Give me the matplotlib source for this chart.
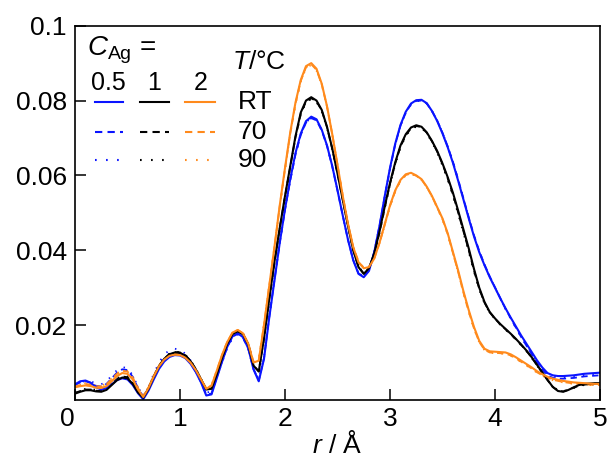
import numpy as np
import matplotlib
matplotlib.use('Agg')
import matplotlib.pyplot as plt
from matplotlib.lines import Line2D

plt.rcParams['font.family'] = ['Liberation Sans', 'DejaVu Sans']
plt.rcParams['mathtext.fontset'] = 'custom'
plt.rcParams['mathtext.rm'] = 'Liberation Sans'
plt.rcParams['mathtext.it'] = 'Liberation Sans:italic'

# r grid (Å)
r = np.round(np.arange(0, 5.0001, 0.05), 2)

# C_Ag = 0.5 (blue)
g05_rt = [0.0042, 0.0050, 0.0052, 0.0046, 0.0034, 0.0028, 0.0032, 0.0042, 0.0053, 0.0058,
          0.0055, 0.0040, 0.0018, 0.0002, 0.0025, 0.0055, 0.0083, 0.0103, 0.0115, 0.0120,
          0.0119, 0.0112, 0.0097, 0.0075, 0.0047, 0.0012, 0.0015, 0.0058, 0.0102, 0.0142,
          0.0170, 0.0178, 0.0168, 0.0138, 0.0082, 0.0050, 0.0110, 0.0220, 0.0320, 0.0420,
          0.0510, 0.0590, 0.0660, 0.0712, 0.0745, 0.0757, 0.0750, 0.0722, 0.0680, 0.0625,
          0.0560, 0.0493, 0.0428, 0.0373, 0.0337, 0.0328, 0.0345, 0.0395, 0.0465, 0.0545,
          0.0620, 0.0685, 0.0735, 0.0770, 0.0792, 0.0801, 0.0802, 0.0793, 0.0772, 0.0745,
          0.0712, 0.0675, 0.0633, 0.0585, 0.0535, 0.0485, 0.0437, 0.0395, 0.0360, 0.0328,
          0.0300, 0.0272, 0.0245, 0.0220, 0.0196, 0.0172, 0.0150, 0.0128, 0.0106, 0.0087,
          0.0072, 0.0066, 0.0064, 0.0064, 0.0065, 0.0066, 0.0068, 0.0070, 0.0071, 0.0072,
          0.0073]
g05_70 = [0.0040, 0.0047, 0.0050, 0.0046, 0.0038, 0.0036, 0.0043, 0.0058, 0.0073, 0.0082,
          0.0080, 0.0062, 0.0032, 0.0008, 0.0030, 0.0062, 0.0090, 0.0110, 0.0122, 0.0126,
          0.0124, 0.0115, 0.0099, 0.0076, 0.0048, 0.0015, 0.0017, 0.0060, 0.0103, 0.0142,
          0.0169, 0.0177, 0.0167, 0.0137, 0.0083, 0.0052, 0.0112, 0.0222, 0.0322, 0.0420,
          0.0508, 0.0587, 0.0656, 0.0708, 0.0741, 0.0753, 0.0747, 0.0720, 0.0679, 0.0624,
          0.0560, 0.0493, 0.0428, 0.0374, 0.0338, 0.0330, 0.0347, 0.0396, 0.0465, 0.0543,
          0.0618, 0.0683, 0.0733, 0.0768, 0.0790, 0.0799, 0.0800, 0.0792, 0.0772, 0.0746,
          0.0714, 0.0677, 0.0636, 0.0588, 0.0538, 0.0488, 0.0440, 0.0398, 0.0362, 0.0330,
          0.0301, 0.0272, 0.0244, 0.0218, 0.0193, 0.0168, 0.0145, 0.0122, 0.0100, 0.0081,
          0.0066, 0.0059, 0.0057, 0.0057, 0.0058, 0.0059, 0.0061, 0.0063, 0.0064, 0.0065,
          0.0066]
g05_90 = [0.0035, 0.0045, 0.0052, 0.0050, 0.0044, 0.0042, 0.0050, 0.0065, 0.0080, 0.0088,
          0.0085, 0.0066, 0.0035, 0.0010, 0.0035, 0.0070, 0.0100, 0.0122, 0.0133, 0.0137,
          0.0134, 0.0124, 0.0106, 0.0082, 0.0053, 0.0020, 0.0022, 0.0060, 0.0100, 0.0138,
          0.0165, 0.0175, 0.0166, 0.0137, 0.0085, 0.0055, 0.0115, 0.0225, 0.0325, 0.0422,
          0.0510, 0.0588, 0.0657, 0.0709, 0.0742, 0.0754, 0.0748, 0.0721, 0.0680, 0.0626,
          0.0562, 0.0495, 0.0430, 0.0375, 0.0339, 0.0330, 0.0346, 0.0394, 0.0463, 0.0542,
          0.0617, 0.0682, 0.0732, 0.0767, 0.0789, 0.0798, 0.0800, 0.0792, 0.0772, 0.0746,
          0.0714, 0.0677, 0.0635, 0.0587, 0.0537, 0.0487, 0.0439, 0.0397, 0.0361, 0.0329,
          0.0300, 0.0271, 0.0243, 0.0217, 0.0192, 0.0168, 0.0146, 0.0124, 0.0102, 0.0084,
          0.0069, 0.0063, 0.0061, 0.0061, 0.0062, 0.0063, 0.0065, 0.0067, 0.0068, 0.0069,
          0.0070]

# C_Ag = 1 (black)
g1_rt = [0.0017, 0.0022, 0.0026, 0.0026, 0.0023, 0.0022, 0.0027, 0.0040, 0.0053, 0.0060,
         0.0058, 0.0043, 0.0020, 0.0006, 0.0030, 0.0062, 0.0090, 0.0110, 0.0122, 0.0127,
         0.0126, 0.0119, 0.0104, 0.0082, 0.0055, 0.0028, 0.0030, 0.0068, 0.0112, 0.0150,
         0.0176, 0.0184, 0.0176, 0.0148, 0.0092, 0.0076, 0.0165, 0.0270, 0.0370, 0.0460,
         0.0545, 0.0625, 0.0705, 0.0768, 0.0800, 0.0809, 0.0800, 0.0775, 0.0730, 0.0672,
         0.0605, 0.0535, 0.0465, 0.0400, 0.0355, 0.0337, 0.0352, 0.0392, 0.0450, 0.0517,
         0.0580, 0.0635, 0.0680, 0.0710, 0.0728, 0.0734, 0.0730, 0.0715, 0.0692, 0.0665,
         0.0632, 0.0595, 0.0553, 0.0505, 0.0455, 0.0405, 0.0350, 0.0300, 0.0262, 0.0235,
         0.0218, 0.0203, 0.0190, 0.0177, 0.0163, 0.0148, 0.0132, 0.0114, 0.0094, 0.0074,
         0.0054, 0.0035, 0.0024, 0.0022, 0.0027, 0.0034, 0.0040, 0.0043, 0.0044, 0.0045,
         0.0045]
g1_70 = [0.0019, 0.0024, 0.0028, 0.0028, 0.0025, 0.0024, 0.0030, 0.0043, 0.0056, 0.0063,
         0.0061, 0.0046, 0.0022, 0.0007, 0.0031, 0.0063, 0.0091, 0.0111, 0.0123, 0.0128,
         0.0127, 0.0120, 0.0105, 0.0083, 0.0056, 0.0029, 0.0031, 0.0068, 0.0111, 0.0149,
         0.0175, 0.0183, 0.0175, 0.0147, 0.0092, 0.0077, 0.0165, 0.0270, 0.0369, 0.0459,
         0.0543, 0.0623, 0.0702, 0.0765, 0.0797, 0.0806, 0.0798, 0.0773, 0.0729, 0.0671,
         0.0605, 0.0535, 0.0466, 0.0401, 0.0356, 0.0338, 0.0352, 0.0391, 0.0448, 0.0514,
         0.0577, 0.0632, 0.0677, 0.0707, 0.0726, 0.0732, 0.0729, 0.0714, 0.0691, 0.0663,
         0.0630, 0.0592, 0.0549, 0.0500, 0.0450, 0.0400, 0.0346, 0.0297, 0.0260, 0.0234,
         0.0217, 0.0202, 0.0189, 0.0176, 0.0162, 0.0147, 0.0131, 0.0113, 0.0093, 0.0073,
         0.0053, 0.0035, 0.0025, 0.0023, 0.0027, 0.0033, 0.0038, 0.0041, 0.0042, 0.0043,
         0.0043]
g1_90 = [0.0021, 0.0026, 0.0030, 0.0030, 0.0027, 0.0026, 0.0032, 0.0045, 0.0058, 0.0065,
         0.0063, 0.0048, 0.0024, 0.0008, 0.0032, 0.0064, 0.0092, 0.0112, 0.0124, 0.0129,
         0.0128, 0.0121, 0.0106, 0.0084, 0.0057, 0.0030, 0.0032, 0.0068, 0.0110, 0.0148,
         0.0174, 0.0182, 0.0174, 0.0146, 0.0093, 0.0078, 0.0166, 0.0270, 0.0368, 0.0458,
         0.0542, 0.0621, 0.0700, 0.0763, 0.0795, 0.0804, 0.0796, 0.0771, 0.0727, 0.0670,
         0.0604, 0.0535, 0.0466, 0.0402, 0.0357, 0.0339, 0.0352, 0.0390, 0.0446, 0.0512,
         0.0575, 0.0630, 0.0675, 0.0705, 0.0724, 0.0730, 0.0727, 0.0712, 0.0689, 0.0660,
         0.0626, 0.0588, 0.0545, 0.0496, 0.0446, 0.0396, 0.0343, 0.0295, 0.0258, 0.0233,
         0.0216, 0.0201, 0.0188, 0.0175, 0.0161, 0.0146, 0.0130, 0.0112, 0.0092, 0.0072,
         0.0053, 0.0036, 0.0026, 0.0024, 0.0027, 0.0032, 0.0037, 0.0040, 0.0041, 0.0042,
         0.0042]

# C_Ag = 2 (orange)
g2_rt = [0.0034, 0.0037, 0.0039, 0.0037, 0.0033, 0.0032, 0.0037, 0.0050, 0.0064, 0.0072,
         0.0070, 0.0055, 0.0028, 0.0008, 0.0032, 0.0063, 0.0090, 0.0108, 0.0118, 0.0121,
         0.0120, 0.0113, 0.0100, 0.0080, 0.0055, 0.0030, 0.0038, 0.0078, 0.0120, 0.0155,
         0.0180, 0.0187, 0.0178, 0.0150, 0.0100, 0.0105, 0.0200, 0.0305, 0.0410, 0.0520,
         0.0620, 0.0715, 0.0795, 0.0855, 0.0892, 0.0900, 0.0885, 0.0845, 0.0785, 0.0710,
         0.0628, 0.0545, 0.0470, 0.0408, 0.0368, 0.0352, 0.0355, 0.0378, 0.0420, 0.0470,
         0.0520, 0.0560, 0.0588, 0.0603, 0.0607, 0.0600, 0.0590, 0.0570, 0.0545, 0.0515,
         0.0485, 0.0445, 0.0395, 0.0345, 0.0290, 0.0240, 0.0195, 0.0158, 0.0137, 0.0130,
         0.0129, 0.0128, 0.0127, 0.0122, 0.0114, 0.0105, 0.0096, 0.0087, 0.0077, 0.0069,
         0.0062, 0.0057, 0.0054, 0.0051, 0.0049, 0.0047, 0.0046, 0.0045, 0.0044, 0.0043,
         0.0043]
g2_70 = [0.0036, 0.0040, 0.0043, 0.0041, 0.0037, 0.0036, 0.0042, 0.0056, 0.0070, 0.0078,
         0.0076, 0.0060, 0.0032, 0.0010, 0.0034, 0.0065, 0.0092, 0.0110, 0.0120, 0.0123,
         0.0122, 0.0115, 0.0101, 0.0081, 0.0056, 0.0031, 0.0039, 0.0078, 0.0120, 0.0155,
         0.0180, 0.0187, 0.0178, 0.0151, 0.0102, 0.0107, 0.0201, 0.0305, 0.0409, 0.0518,
         0.0617, 0.0712, 0.0792, 0.0852, 0.0889, 0.0897, 0.0882, 0.0843, 0.0784, 0.0710,
         0.0628, 0.0546, 0.0471, 0.0409, 0.0369, 0.0353, 0.0356, 0.0378, 0.0419, 0.0468,
         0.0518, 0.0558, 0.0586, 0.0601, 0.0605, 0.0599, 0.0589, 0.0569, 0.0544, 0.0514,
         0.0483, 0.0443, 0.0392, 0.0341, 0.0286, 0.0236, 0.0191, 0.0155, 0.0134, 0.0127,
         0.0126, 0.0125, 0.0124, 0.0119, 0.0111, 0.0102, 0.0093, 0.0084, 0.0074, 0.0066,
         0.0059, 0.0054, 0.0051, 0.0048, 0.0046, 0.0044, 0.0043, 0.0042, 0.0041, 0.0040,
         0.0040]
g2_90 = [0.0038, 0.0042, 0.0045, 0.0043, 0.0039, 0.0038, 0.0044, 0.0058, 0.0072, 0.0080,
         0.0078, 0.0062, 0.0034, 0.0011, 0.0035, 0.0066, 0.0093, 0.0111, 0.0121, 0.0124,
         0.0123, 0.0116, 0.0102, 0.0082, 0.0057, 0.0032, 0.0040, 0.0079, 0.0120, 0.0155,
         0.0180, 0.0187, 0.0179, 0.0152, 0.0103, 0.0108, 0.0202, 0.0306, 0.0409, 0.0517,
         0.0615, 0.0710, 0.0790, 0.0850, 0.0887, 0.0895, 0.0880, 0.0842, 0.0783, 0.0709,
         0.0628, 0.0546, 0.0472, 0.0410, 0.0370, 0.0354, 0.0357, 0.0378, 0.0418, 0.0467,
         0.0517, 0.0557, 0.0585, 0.0600, 0.0604, 0.0598, 0.0588, 0.0568, 0.0543, 0.0513,
         0.0482, 0.0442, 0.0391, 0.0340, 0.0285, 0.0235, 0.0190, 0.0154, 0.0133, 0.0126,
         0.0125, 0.0124, 0.0123, 0.0118, 0.0110, 0.0101, 0.0092, 0.0083, 0.0073, 0.0065,
         0.0058, 0.0053, 0.0050, 0.0047, 0.0045, 0.0043, 0.0042, 0.0041, 0.0040, 0.0039,
         0.0039]

conc_labels = ['0.5', '1', '2']
temp_labels = ['RT', '70', '90']
colors = ['#0A14FF', 'k', '#FF8A1C']
styles = ['-', (0, (3.5, 2.5)), (0, (0.8, 4.5))]

series = [[g05_rt, g05_70, g05_90],
          [g1_rt, g1_70, g1_90],
          [g2_rt, g2_70, g2_90]]

fig = plt.figure(figsize=(6.08, 4.58), dpi=100)
ax = fig.add_axes([75/608, 1 - 400/458, 525/608, 374.3/458])

for ti in [2, 1, 0]:
  for ci in range(3):
    ax.plot(r, series[ci][ti], color=colors[ci], linestyle=styles[ti],
      linewidth=1.5 if ti == 0 else 1.3)

ax.set_xlim(0, 5)
ax.set_ylim(0, 0.1)
ax.set_xticks([0, 1, 2, 3, 4, 5])
ax.set_xticklabels(['0', '1', '2', '3', '4', '5'])
ax.set_yticks([0.02, 0.04, 0.06, 0.08, 0.1])
ax.set_yticklabels(['0.02', '0.04', '0.06', '0.08', '0.1'])
ax.get_xticklabels()[0].set_ha('right')
ax.tick_params(direction='in', length=8, width=1.1, labelsize=19)
ax.tick_params(axis='x', pad=5)
ax.tick_params(axis='y', pad=6)
for sp in ax.spines.values():
  sp.set_linewidth(1.2)

ax.set_xlabel('$r$ / Å', fontsize=19, labelpad=0)

# legend block drawn by hand
ax.text(0.022, 0.935, '$C_{\\mathrm{Ag}}$ =', transform=ax.transAxes,
  fontsize=20, ha='left', va='center')
ax.text(0.300, 0.903, '$T$/°C', transform=ax.transAxes,
  fontsize=19, ha='left', va='center')
col_x = [(0.038, 0.091), (0.124, 0.179), (0.210, 0.267)]
row_y = [0.797, 0.717, 0.641]
for ci in range(3):
  ax.text(sum(col_x[ci]) / 2, 0.848, conc_labels[ci], transform=ax.transAxes,
    fontsize=18, ha='center', va='center')
  for ti in range(3):
    ax.add_line(Line2D(col_x[ci], [row_y[ti], row_y[ti]], transform=ax.transAxes,
      color=colors[ci], linestyle=styles[ti], linewidth=1.5))
for ti in range(3):
  ax.text(0.310, row_y[ti], temp_labels[ti], transform=ax.transAxes,
    fontsize=19, ha='left', va='center')

fig.savefig('out.png', dpi=100)
